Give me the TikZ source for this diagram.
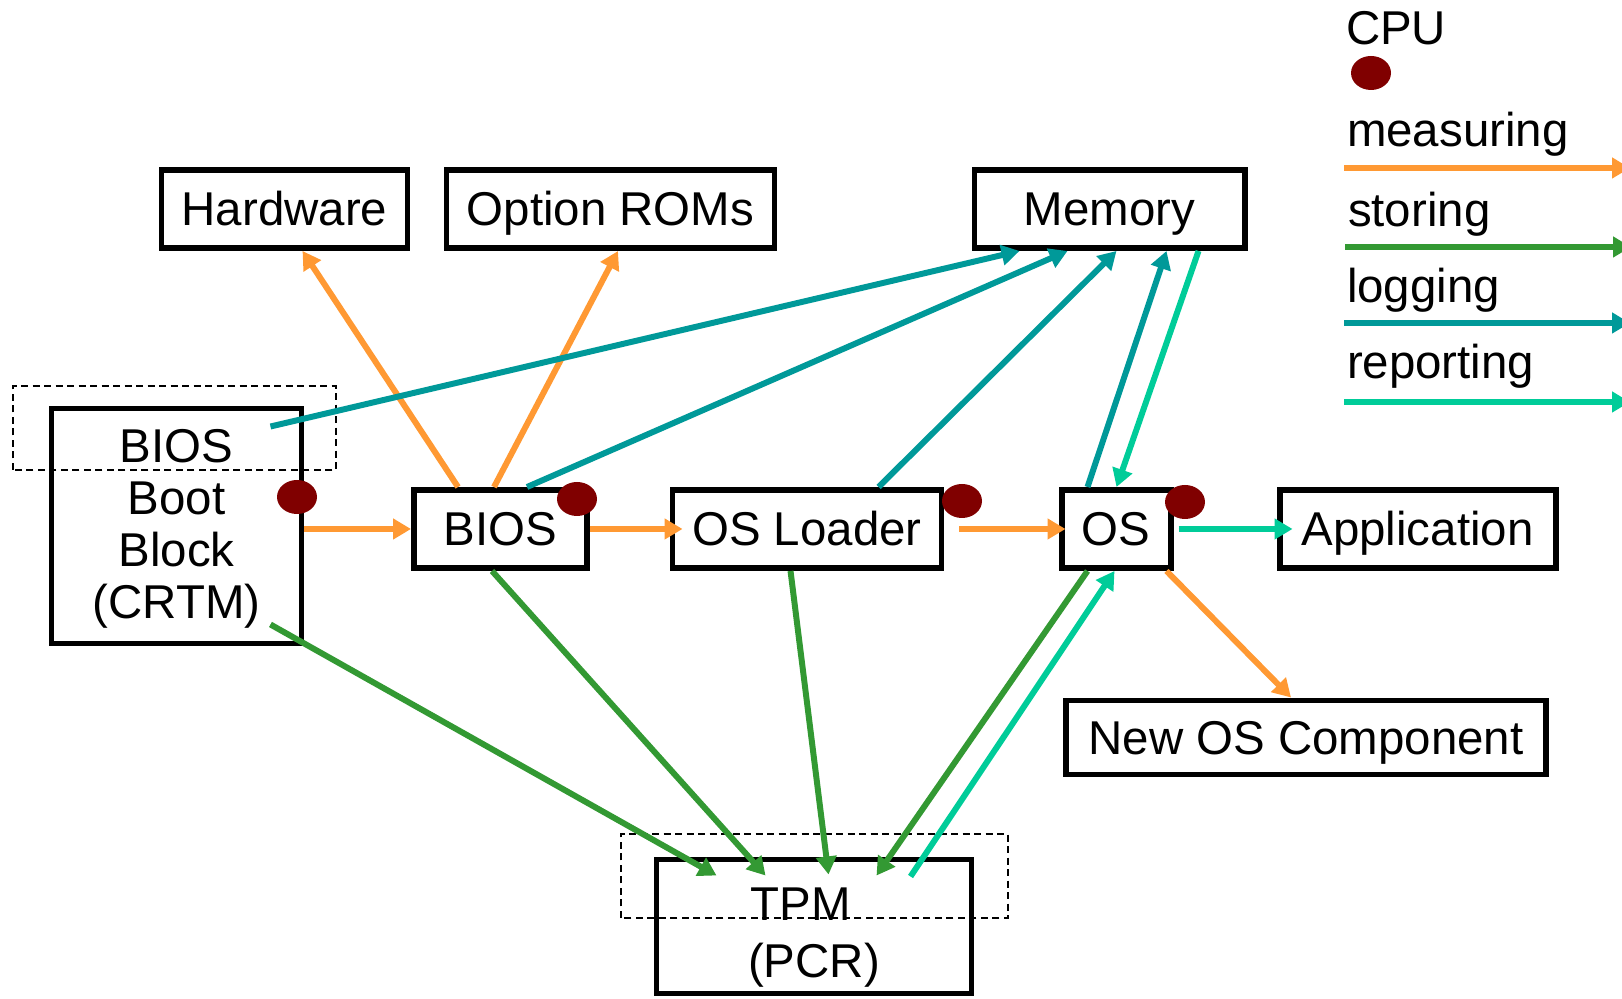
\documentclass[tikz,border=0pt]{standalone}
\usepackage{color}
\usepackage{tikz}
\usepackage{fontspec}
\setmainfont{Liberation Sans}
\usetikzlibrary{arrows.meta}

\definecolor{measurecol}{RGB}{255,153,51}
\definecolor{storecol}{RGB}{51,153,51}
\definecolor{logcol}{RGB}{0,153,153}
\definecolor{reportcol}{RGB}{0,204,153}
\definecolor{cpucol}{RGB}{128,0,0}

\begin{document}
\begin{tikzpicture}[line width=1.7pt, font=\fontsize{13.5}{14.8}\selectfont,
    box/.style={draw, line width=1.7pt, fill=white, inner sep=0pt, minimum height=0.78cm},
    part/.style={box, text height=0.34cm, text depth=0pt},
    key/.style={anchor=base west, inner sep=0pt},
    hilite/.style={line width=0.6pt, dash pattern=on 0.07cm off 0.045cm},
    tip/.style={-{Triangle[length=0.18cm,width=0.2cm]}},
    measure/.style={tip, draw=measurecol, fill=measurecol},
    store/.style={tip, draw=storecol, fill=storecol},
    logs/.style={tip, draw=logcol, fill=logcol},
    report/.style={tip, draw=reportcol, fill=reportcol},
    cpu/.style={fill=cpucol}]
        \useasboundingbox (0, 0) rectangle (16.22, 9.99);

        % boxes
        \node[part, minimum width=2.46cm] (hw) at (2.845, 7.90) {Hardware};
        \node[part, minimum width=3.28cm] (rom) at (6.105, 7.90) {Option ROMs};
        \node[part, minimum width=2.70cm] (mem) at (11.095, 7.90) {Memory};
        \node[box, minimum width=2.50cm, minimum height=2.35cm, align=center, text height=1.94cm] (crtm) at (1.765, 4.73) {BIOS\\Boot\\Block\\(CRTM)};
        \node[part, minimum width=1.73cm] (bios) at (5.005, 4.70) {BIOS};
        \node[part, minimum width=2.69cm] (osl) at (8.07, 4.70) {OS Loader};
        \node[part, minimum width=1.09cm] (os) at (11.16, 4.70) {OS};
        \node[part, minimum width=2.76cm] (app) at (14.175, 4.70) {Application};
        \node[part, minimum width=4.80cm, minimum height=0.74cm] (newos) at (13.06, 2.615) {New OS Component};
        \node[box, minimum width=3.15cm, minimum height=1.34cm, align=center, text height=1.11cm] (tpm) at (8.14, 0.725) {TPM\hspace*{0.26cm}\\[0.05cm](PCR)};

        \draw[hilite] (0.13, 5.29) rectangle (3.36, 6.13);
        \draw[hilite] (6.21, 0.81) rectangle (10.08, 1.65);

        % measuring
        \draw[measure] (crtm.east |- bios.west) -- (bios.west);
        \draw[measure] ([xshift=0.47cm]bios.north west) -- ([xshift=1.44cm]hw.south west);
        \draw[measure] ([xshift=0.83cm]bios.north west) -- ([xshift=1.745cm]rom.south west);
        \draw[measure] (bios.east) -- ([xshift=0.13cm]osl.west);
        \draw[measure] ([xshift=0.15cm]osl.east) -- ([xshift=0.07cm]os.west);
        \draw[measure] ([xshift=-0.07cm]os.south east) -- ([xshift=2.28cm]newos.north west);

        % storing
        \draw[store] ([shift={(-0.34cm,0.22cm)}]crtm.south east) -- ([shift={(0.63cm,-0.19cm)}]tpm.north west);
        \draw[store] ([xshift=0.81cm]bios.south west) -- ([shift={(1.12cm,-0.19cm)}]tpm.north west);
        \draw[store] ([xshift=1.21cm]osl.south west) -- ([shift={(1.75cm,-0.18cm)}]tpm.north west);
        \draw[store] ([xshift=0.29cm]os.south west) -- ([shift={(2.23cm,-0.19cm)}]tpm.north west);

        % logging
        \draw[logs] ([shift={(-0.34cm,-0.21cm)}]crtm.north east) -- ([xshift=0.48cm]mem.south west);
        \draw[logs] ([xshift=1.16cm]bios.north west) -- ([xshift=0.96cm]mem.south west);
        \draw[logs] ([xshift=2.09cm]osl.north west) -- ([xshift=1.45cm]mem.south west);
        \draw[logs] ([xshift=0.29cm]os.north west) -- ([xshift=1.95cm]mem.south west);

        % reporting
        \draw[report] ([xshift=2.27cm]mem.south west) -- ([xshift=0.58cm]os.north west);
        \draw[report] ([xshift=0.05cm]os.east) -- ([xshift=0.16cm]app.west);
        \draw[report] ([shift={(2.57cm,-0.20cm)}]tpm.north west) -- ([xshift=0.56cm]os.south west);

        % cpu dots
        \fill[cpu] (2.97, 5.02) ellipse [x radius=0.2, y radius=0.17];
        \fill[cpu] (5.77, 5.00) ellipse [x radius=0.2, y radius=0.17];
        \fill[cpu] (9.62, 4.98) ellipse [x radius=0.2, y radius=0.17];
        \fill[cpu] (11.85, 4.97) ellipse [x radius=0.2, y radius=0.17];

        % legend
        \node[key] (cpukey) at (13.43, 9.54) {CPU};
        \fill[cpu] (13.71, 9.26) ellipse [x radius=0.2, y radius=0.17];
        \node[key] (meas) at (13.44, 8.52) {measuring};
        \node[key] (stor) at (13.45, 7.72) {storing};
        \node[key] (logg) at (13.44, 6.96) {logging};
        \node[key] (repo) at (13.44, 6.20) {reporting};
        \draw[measure] ([yshift=-0.21cm]meas.base west) -- ++(2.86, 0);
        \draw[store] ([yshift=-0.20cm]stor.base west) -- ++(2.86, 0);
        \draw[logs] ([yshift=-0.20cm]logg.base west) -- ++(2.86, 0);
        \draw[report] ([yshift=-0.23cm]repo.base west) -- ++(2.86, 0);
      \end{tikzpicture}
\end{document}
